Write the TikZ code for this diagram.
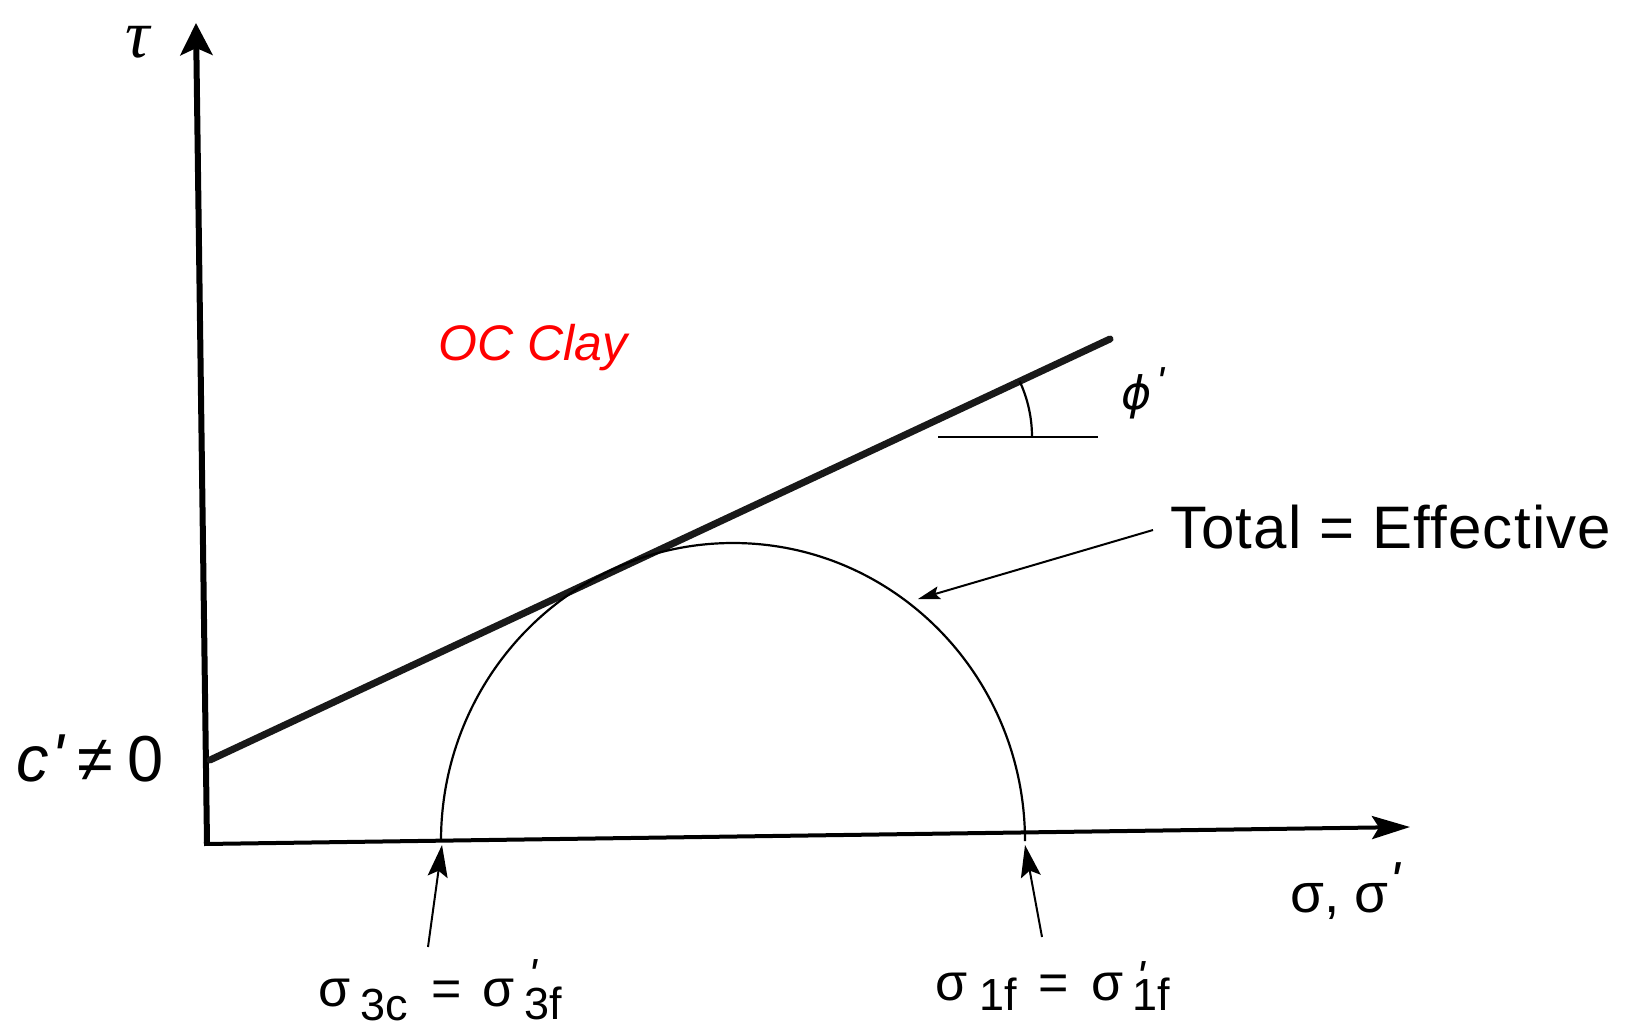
\documentclass[tikz,border=0pt]{standalone}
\usepackage{fontspec}
\newfontfamily\arial{Liberation Sans}
\newfontfamily\arialsp[LetterSpace=2]{Liberation Sans}
\newfontfamily\djv{DejaVu Sans}
\newfontfamily\tms{Liberation Serif}
\usetikzlibrary{arrows.meta}
\newcommand\fsz[1]{\fontsize{#1}{#1}\selectfont}
\newcommand\prm[2]{\raisebox{#1}{\arial\itshape\fsz{#2}'}}
\begin{document}
\begin{tikzpicture}[x=1pt,y=-1pt,
  yaxisline/.style={line width=6pt,-{Stealth[length=32pt,width=32pt,inset=7pt]}},
  xaxisline/.style={line width=4pt,-{Stealth[length=38pt,width=23pt,inset=7pt]}},
  envline/.style={line width=7pt,line cap=round,black!90},
  thinline/.style={line width=2.2pt},
  leader/.style={line width=2pt,-{Stealth[length=22pt,width=13pt,inset=4pt]}},
  footarrow/.style={line width=2pt,-{Stealth[length=32pt,width=20pt,inset=6pt]}},
  lbl/.style={inner sep=0pt,font=\arial}]
\useasboundingbox (0,0) rectangle (1648,1029);
% key points
\coordinate (O) at (207,843);
\coordinate (Ytip) at (196,23);
\coordinate (Xstart) at (204,844);
\coordinate (Xtip) at (1410,827);
\coordinate (E0) at (210,760);
\coordinate (E1) at (1110,339);
\coordinate (C) at (733,841);
\coordinate (Lft) at (441,841);
\coordinate (Rgt) at (1025,841);
\coordinate (Aref) at (900,437);
\coordinate (H0) at (938,437);
\coordinate (H1) at (1098,437);
\coordinate (Arc0) at (1032,437);
% axes
\draw[yaxisline] (O) -- (Ytip);
\draw[xaxisline] (Xstart) -- (Xtip);
% failure envelope
\draw[envline] (E0) -- (E1);
% Mohr circle
\draw[thinline] (Lft) arc[start angle=180,end angle=360,x radius=292,y radius=298];
% angle phi'
\draw[thinline] (H0) -- (H1);
\draw[thinline] (Arc0) arc[start angle=0,end angle=-25,radius=132];
% labels
\node[lbl] (tau) at (138,42) {\tms\itshape\fsz{68}τ};
\node[lbl] (cprime) at (90,758) {\fsz{65}\itshape c\upshape\hspace{2pt}\raisebox{2pt}{\itshape'}\hspace{14pt}≠\hspace{14pt}0};
\node[lbl,text=red] (oc) at (533,348) {\fsz{50}\itshape OC Clay};
\node[lbl] (phi) at (1143,393) {\djv\itshape\fsz{46}ϕ\hspace{4pt}\prm{13pt}{42}};
\node[lbl,anchor=base west] (te) at (1170,548) {\arialsp\fsz{60}Total = Effective};
\node[lbl,anchor=base west] (sig) at (1290,912) {\fsz{55}σ, σ\hspace{1pt}\prm{12pt}{55}};
\node[lbl,anchor=base west] (s3) at (318,1006) {\fsz{52}σ\hspace{10pt}\raisebox{-14pt}{\fsz{45}3c}\hspace{24pt}=\hspace{20pt}σ\hspace{10pt}\rlap{\hspace{4pt}\prm{16pt}{45}}\raisebox{-13pt}{\fsz{45}3f}};
\node[lbl,anchor=base west] (s1) at (935,1000) {\fsz{52}σ\hspace{12pt}\raisebox{-10pt}{\fsz{45}1f}\hspace{22pt}=\hspace{22pt}σ\hspace{9pt}\rlap{\hspace{4pt}\prm{8pt}{45}}\raisebox{-10pt}{\fsz{45}1f}};
% leaders
\coordinate (teL) at (1153,530);
\coordinate (teTip) at (918,599);
\draw[leader] (teL) -- (teTip);
\coordinate (s3T) at (428,947);
\coordinate (s3Tip) at (442,845);
\draw[footarrow] (s3T) -- (s3Tip);
\coordinate (s1T) at (1042,937);
\coordinate (s1Tip) at (1025,845);
\draw[footarrow] (s1T) -- (s1Tip);
\end{tikzpicture}
\end{document}
